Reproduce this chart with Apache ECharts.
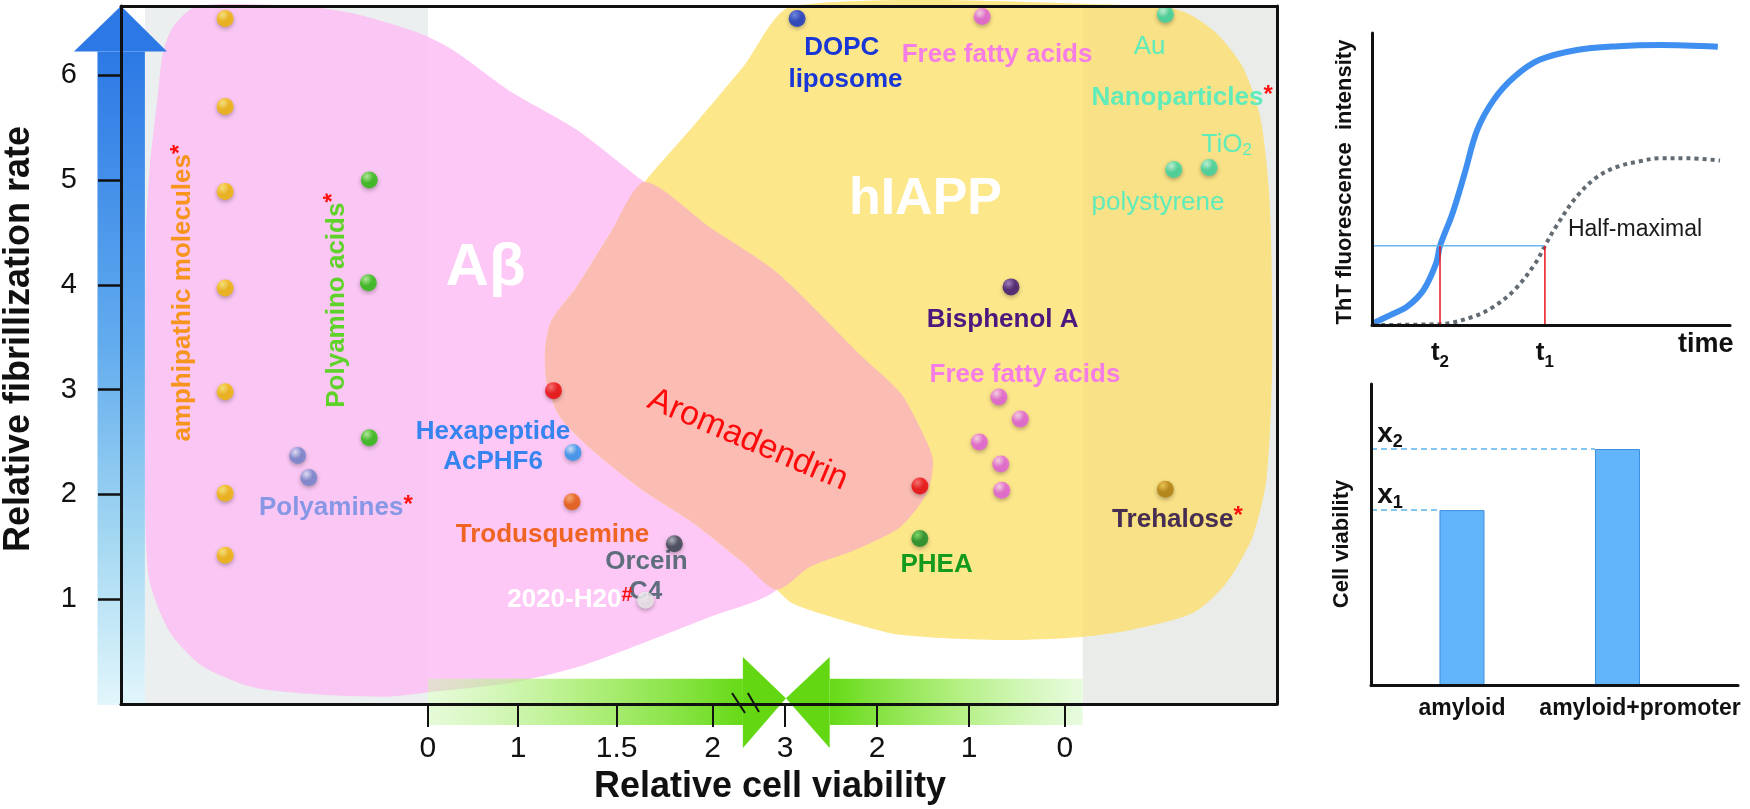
<!DOCTYPE html>
<html><head><meta charset="utf-8">
<script src="https://cdn.jsdelivr.net/npm/echarts@6/dist/echarts.min.js"></script>
<style>html,body{margin:0;padding:0;background:#fff}#c{width:1750px;height:809px}</style>
</head><body><div id="c"></div>
<script>
// ================= DATA =================
// Main panel: x = position along the (broken) "Relative cell viability" axis, y = relative fibrillization rate
const viabilityTickPos = [0, 0.97, 2.03, 3.06, 3.84, 4.83, 5.82, 6.85];
const viabilityTickLabels = ['0', '1', '1.5', '2', '3', '2', '1', '0'];
const rateTicks = [1, 2, 3, 4, 5, 6];

const amphipathicMolecules = [[-2.18,6.54],[-2.18,5.70],[-2.18,4.89],[-2.18,3.97],[-2.18,2.98],[-2.18,2.01],[-2.18,1.42]];
const polyaminoAcids = [[-0.63,5.00],[-0.64,4.02],[-0.63,2.54]];
const polyamines = [[-1.40,2.37],[-1.28,2.16]];
const aromadendrin = [[1.35,2.99],[5.29,2.08]];
const hexapeptide = [[1.56,2.40]];
const trodusquemine = [[1.55,1.93]];
const orcein = [[2.65,1.53]];
const c4 = [[2.34,0.99]];
const dopcLiposome = [[3.97,6.54]];
const freeFattyAcids = [[5.96,6.56],[6.14,2.93],[6.37,2.72],[5.93,2.50],[6.16,2.29],[6.17,2.04]];
const nanoparticles = [[7.93,6.58],[8.02,5.10],[8.40,5.12]];
const bisphenolA = [[6.27,3.98]];
const phea = [[5.29,1.58]];
const trehalose = [[7.93,2.05]];

// Region outlines (same coordinates)
const abetaRegion = [[-2.48,6.66],[-1.38,6.66],[-0.81,6.59],[-0.09,6.40],[0.27,6.24],[0.88,5.85],[1.60,5.48],[2.33,4.98],[3.03,4.55],[3.75,4.12],[4.65,3.33],[4.97,2.42],[3.75,1.09],[3.03,0.83],[2.31,0.58],[1.60,0.35],[0.88,0.20],[-0.01,0.11],[-0.44,0.07],[-1.16,0.09],[-1.88,0.16],[-2.42,0.36],[-2.77,0.68],[-2.99,1.16],[-3.04,1.79],[-3.04,3.33],[-3.03,4.50],[-2.99,5.13],[-2.91,5.76],[-2.85,6.21],[-2.74,6.46]];
const hiappRegion = [[3.92,6.66],[7.87,6.66],[8.19,6.58],[8.48,6.40],[8.76,6.08],[8.95,5.60],[9.05,4.81],[9.08,3.33],[9.02,2.17],[8.87,1.60],[8.59,1.16],[8.23,0.87],[7.58,0.71],[7.04,0.64],[6.15,0.61],[5.08,0.66],[4.46,0.80],[3.92,0.96],[3.75,1.09],[3.39,1.35],[2.85,1.73],[2.31,2.04],[1.77,2.42],[1.42,2.74],[1.28,3.06],[1.26,3.38],[1.33,3.66],[1.60,3.98],[1.96,4.49],[2.33,4.98],[2.85,5.51],[3.39,6.08]];
const aromadendrinRegion = [[3.75,1.09],[3.39,1.35],[2.85,1.73],[2.31,2.04],[1.77,2.42],[1.42,2.74],[1.28,3.06],[1.26,3.38],[1.33,3.66],[1.60,3.98],[1.96,4.49],[2.33,4.98],[3.03,4.55],[3.75,4.12],[4.65,3.33],[5.08,2.97],[5.29,2.64],[5.43,2.33],[5.37,2.02],[5.08,1.69],[4.59,1.47],[4.11,1.31]];

// ThT kinetics panel (time, intensity in %)
const thtWithPromoter = [[0.4,0.6],[5.1,3.4],[9.8,6.3],[14.4,12.0],[17.9,21.1],[19.0,27.1],[22.5,38.3],[25.9,52.0],[29.4,66.8],[34.0,77.1],[39.8,85.0],[46.8,90.8],[57.2,94.2],[68.8,95.5],[80.4,95.9],[96.6,95.3]];
const thtAmyloidOnly = [[0.4,0],[19,0.3],[28.2,2.8],[34,6.3],[39.8,12],[45.6,21.1],[48.3,27.1],[51.4,33.7],[57.2,44],[63,50.8],[68.8,54.3],[74.5,56],[80.4,57.1],[88.5,57.1],[97.2,56.3]];
const halfMaximal = 27.1;
const t2Time = 19.0;
const t1Time = 48.3;

// Cell viability panel
const viabilityCategories = ['amyloid', 'amyloid+promoter'];
const viabilityValues = [58.1, 78.4];
const viabilityLabels = ['x1', 'x2'];

// ================= DRAWING =================
const FONT = '"Liberation Sans", Arial, Helvetica, sans-serif';
const chart = echarts.init(document.getElementById('c'), null, {renderer: 'canvas'});

const MAIN_X = [-3.3, 9.13], MAIN_Y = [0, 6.66];
const barX = [0.415, 2.775];
const barGridLeft = 1371, barGridRight = 12, barWidthPx = 45;
const barHalf = barWidthPx / 2 * (barX[1] - barX[0]) / (1750 - barGridLeft - barGridRight);

function nearestIdx(arr, v) { let b = 0; for (let i = 1; i < arr.length; i++) if (Math.abs(arr[i]-v) < Math.abs(arr[b]-v)) b = i; return b; }

function renderRegions(params, api) {
  const P = a => a.map(p => api.coord(p));
  const c = (u, y) => api.coord([u, y]);
  const rect = (u0, y0, u1, y1) => { const a = c(u0, y0), b = c(u1, y1); return {x: a[0], y: a[1], width: b[0]-a[0], height: b[1]-a[1]}; };
  const ch = [];
  // grey side zones
  ch.push({type: 'rect', shape: rect(-3.043, MAIN_Y[1], 0, MAIN_Y[0]), style: {fill: '#eef2f2'}});
  ch.push({type: 'rect', shape: rect(7.04, MAIN_Y[1], MAIN_X[1], MAIN_Y[0]), style: {fill: '#eef2f2'}});
  ch.push({type: 'polygon', shape: {points: P(abetaRegion), smooth: 0.25}, style: {fill: '#fdc8f6'}});
  ch.push({type: 'polygon', shape: {points: P(hiappRegion), smooth: 0.25}, style: {fill: '#fde78b'}});
  ch.push({type: 'polygon', shape: {points: P(aromadendrinRegion), smooth: 0.25}, style: {fill: '#fbbcb4'}});
  // subtle shading of regions lying inside side zones
  ch.push({type: 'rect', shape: rect(-3.043, MAIN_Y[1], 0, MAIN_Y[0]), style: {fill: 'rgba(110,80,90,0.02)'}});
  ch.push({type: 'rect', shape: rect(7.04, MAIN_Y[1], MAIN_X[1], MAIN_Y[0]), style: {fill: 'rgba(120,90,0,0.035)'}});
  // blue vertical arrow
  ch.push({type: 'rect', shape: rect(-3.553, 6.225, -3.043, -0.01),
    style: {fill: new echarts.graphic.LinearGradient(0, 0, 0, 1, [
      {offset: 0, color: '#2c79e6'}, {offset: 0.45, color: '#62acee'}, {offset: 0.75, color: '#a5d8f2'}, {offset: 1, color: '#e2f6fb'}])}});
  ch.push({type: 'polygon', shape: {points: [c(-3.806, 6.225), c(-3.30, 6.66), c(-2.806, 6.225)]}, style: {fill: '#2c79e6'}});
  // green horizontal arrows
  ch.push({type: 'rect', shape: rect(0, 0.24, 3.387, -0.2),
    style: {fill: new echarts.graphic.LinearGradient(0, 0, 1, 0, [
      {offset: 0, color: 'rgba(200,246,170,0.45)'}, {offset: 0.5, color: 'rgba(165,236,105,0.85)'}, {offset: 1, color: '#66da16'}])}});
  ch.push({type: 'polygon', shape: {points: [c(3.387, 0.449), c(3.85, 0.055), c(3.387, -0.419)]}, style: {fill: '#63d812'}});
  ch.push({type: 'polygon', shape: {points: [c(4.32, 0.449), c(3.85, 0.055), c(4.32, -0.419)]}, style: {fill: '#63d812'}});
  ch.push({type: 'rect', shape: rect(4.32, 0.24, 7.04, -0.2),
    style: {fill: new echarts.graphic.LinearGradient(0, 0, 1, 0, [
      {offset: 0, color: '#66da16'}, {offset: 0.5, color: 'rgba(170,238,115,0.9)'}, {offset: 1, color: 'rgba(222,250,208,0.7)'}])}});
  // axis break marks
  const l1a = c(3.27, 0.105), l1b = c(3.41, -0.086), l2a = c(3.44, 0.105), l2b = c(3.56, -0.076);
  ch.push({type: 'line', shape: {x1: l1a[0], y1: l1a[1], x2: l1b[0], y2: l1b[1]}, style: {stroke: '#111', lineWidth: 2}});
  ch.push({type: 'line', shape: {x1: l2a[0], y1: l2a[1], x2: l2b[0], y2: l2b[1]}, style: {stroke: '#111', lineWidth: 2}});
  return {type: 'group', children: ch};
}

const notes = [
  {t: '{m|amphipathic molecules}{s|*}', at: [-2.63, 3.92], rot: 90, color: '#f7941e', size: 26},
  {t: '{m|Polyamino acids}{s|*}', at: [-0.98, 3.85], rot: 90, color: '#5fd22a', size: 26},
  {t: '{m|Polyamines}{s|*}', at: [-0.99, 1.87], color: '#8797e6', size: 26},
  {t: '{m|Hexapeptide}', at: [0.70, 2.60], color: '#3584ef', size: 26},
  {t: '{m|AcPHF6}', at: [0.70, 2.31], color: '#3584ef', size: 26},
  {t: '{m|Trodusquemine}', at: [1.34, 1.61], color: '#f06423', size: 26},
  {t: '{m|Orcein}', at: [2.35, 1.36], color: '#5f6e7d', size: 26},
  {t: '{m|C4}', at: [2.34, 1.07], color: '#5f6e7d', size: 26},
  {t: '{m|2020-H20}{h|#}', at: [2.20, 0.99], color: '#ffffff', size: 26, align: 'right'},
  {t: '{m|Aromadendrin}', at: [3.44, 2.52], rot: -23, color: '#ff0a0a', size: 34, weight: 'normal'},
  {t: '{m|Aβ}', at: [0.62, 4.16], color: '#ffffff', size: 60},
  {t: '{m|hIAPP}', at: [5.35, 4.81], color: '#ffffff', size: 52},
  {t: '{m|DOPC}', at: [4.45, 6.26], color: '#1937d7', size: 26},
  {t: '{m|liposome}', at: [4.49, 5.96], color: '#1937d7', size: 26},
  {t: '{m|Free fatty acids}', at: [6.12, 6.19], color: '#f57de6', size: 26},
  {t: '{m|Au}', at: [7.76, 6.27], color: '#5febba', size: 26, weight: 'normal'},
  {t: '{m|Nanoparticles}{s|*}', at: [8.11, 5.78], color: '#5febba', size: 26},
  {t: '{m|TiO}{sub|2}', at: [8.59, 5.34], color: '#5febba', size: 26, weight: 'normal'},
  {t: '{m|polystyrene}', at: [7.85, 4.78], color: '#5febba', size: 26, weight: 'normal'},
  {t: '{m|Bisphenol A}', at: [6.18, 3.67], color: '#4b197d', size: 26},
  {t: '{m|Free fatty acids}', at: [6.42, 3.14], color: '#f57de6', size: 26},
  {t: '{m|PHEA}', at: [5.47, 1.33], color: '#149b1e', size: 26},
  {t: '{m|Trehalose}{s|*}', at: [8.06, 1.76], color: '#462d55', size: 26, stroke: '#f4dd6a'}
];

function renderNotes(params, api) {
  const ch = notes.map(n => {
    const p = api.coord(n.at);
    const w = n.weight || 'bold';
    return {
      type: 'text', x: p[0], y: p[1], rotation: (n.rot || 0) * Math.PI / 180,
      style: {
        text: n.t, align: n.align || 'center', verticalAlign: 'middle',
        rich: {
          m: {fill: n.color, color: n.color, fontSize: n.size, fontWeight: w, fontFamily: FONT, lineHeight: n.size * 1.15,
              stroke: n.stroke || null, lineWidth: n.stroke ? 1 : 0},
          s: {fill: '#ff1010', color: '#ff1010', fontSize: 24, fontWeight: 'bold', fontFamily: FONT, verticalAlign: 'top', lineHeight: 18},
          h: {fill: '#ff1010', color: '#ff1010', fontSize: 20, fontWeight: 'bold', fontFamily: FONT, verticalAlign: 'top', lineHeight: 20},
          sub: {fill: n.color, color: n.color, fontSize: 17, fontFamily: FONT, fontWeight: w, verticalAlign: 'bottom', lineHeight: 22}
        }
      }
    };
  });
  return {type: 'group', children: ch};
}

const pointGroups = [
  {name: 'amphipathic molecules', data: amphipathicMolecules, base: '#f5b800', hl: '#fff06a'},
  {name: 'Polyamino acids', data: polyaminoAcids, base: '#28c00a', hl: '#aef890'},
  {name: 'Polyamines', data: polyamines, base: '#7585d0', hl: '#e6eaff'},
  {name: 'Aromadendrin', data: aromadendrin, base: '#f00508', hl: '#ff6a6a'},
  {name: 'Hexapeptide AcPHF6', data: hexapeptide, base: '#2f96f2', hl: '#cdeeff'},
  {name: 'Trodusquemine', data: trodusquemine, base: '#ec5804', hl: '#ffae62'},
  {name: 'Orcein', data: orcein, base: '#36414c', hl: '#a9b4be'},
  {name: 'C4', data: c4, base: '#ececec', hl: '#ffffff'},
  {name: 'DOPC liposome', data: dopcLiposome, base: '#1232cc', hl: '#5a7cf7'},
  {name: 'Free fatty acids', data: freeFattyAcids, base: '#e65ee0', hl: '#fdd4f9'},
  {name: 'Nanoparticles', data: nanoparticles, base: '#38d8a6', hl: '#bdfce8'},
  {name: 'Bisphenol A', data: bisphenolA, base: '#3a1075', hl: '#9670d0'},
  {name: 'PHEA', data: phea, base: '#148c22', hl: '#70e068'},
  {name: 'Trehalose', data: trehalose, base: '#b57f0c', hl: '#f2c84c'}
];

const axisBlack = {show: true, onZero: false, lineStyle: {color: '#111', width: 3}};
const noTick = {show: false}, noLabel = {show: false}, noSplit = {show: false};

const series = [
  {type: 'custom', name: 'regions', xAxisIndex: 0, yAxisIndex: 0, z: 1, silent: true, data: [[0, 1]], renderItem: renderRegions},
  {type: 'custom', name: 'notes', xAxisIndex: 0, yAxisIndex: 0, z: 4, silent: true, data: [[0, 1]], renderItem: renderNotes}
];
pointGroups.forEach(g => series.push({
  type: 'scatter', name: g.name, xAxisIndex: 0, yAxisIndex: 0, z: 5, data: g.data, symbolSize: 17,
  itemStyle: {color: new echarts.graphic.RadialGradient(0.36, 0.3, 0.7, [{offset: 0, color: g.hl}, {offset: 0.55, color: g.base}, {offset: 1, color: g.base}]),
    shadowBlur: 4, shadowColor: 'rgba(0,0,0,0.35)', shadowOffsetY: 2}
}));

// ThT panel
series.push({type: 'line', name: 'amyloid+promoter', xAxisIndex: 2, yAxisIndex: 2, data: thtWithPromoter, smooth: 0.35, symbol: 'none',
  lineStyle: {color: '#3f8ff0', width: 6}, z: 3});
series.push({type: 'line', name: 'amyloid', xAxisIndex: 2, yAxisIndex: 2, data: thtAmyloidOnly, smooth: 0.35, symbol: 'none',
  lineStyle: {color: '#636b72', width: 4, type: [4, 4]}, z: 3});
series.push({type: 'line', name: 'half-maximal', xAxisIndex: 2, yAxisIndex: 2, symbol: 'circle', symbolSize: 0, z: 4,
  data: [[0, halfMaximal], {value: [t1Time, halfMaximal], label: {show: true, position: 'right', distance: 23, offset: [0, -16],
    formatter: 'Half-maximal', fontFamily: FONT, fontSize: 23, color: '#1a1a1a'}}],
  lineStyle: {color: '#69b6f3', width: 1.5}});
[t2Time, t1Time].forEach(t => series.push({type: 'line', xAxisIndex: 2, yAxisIndex: 2, symbol: 'none', z: 4,
  data: [[t, 0], [t, halfMaximal]], lineStyle: {color: '#e8141e', width: 1.5}}));

// cell viability panel
series.push({type: 'bar', name: 'cell viability', xAxisIndex: 3, yAxisIndex: 3, barWidth: barWidthPx,
  data: viabilityValues.map((v, i) => [i + 1, v]),
  itemStyle: {color: '#63b5fb', borderColor: '#3b8fdf', borderWidth: 1}, z: 3});
viabilityValues.forEach((v, i) => series.push({type: 'line', xAxisIndex: 3, yAxisIndex: 3, symbol: 'circle', symbolSize: 0, z: 2,
  data: [{value: [barX[0], v], label: {show: true, position: 'top', distance: 0, offset: [19, 2],
      formatter: '{x|x}{s|' + viabilityLabels[i].slice(1) + '}',
      rich: {x: {fontFamily: FONT, fontSize: 28, fontWeight: 'bold', color: '#111', lineHeight: 28},
             s: {fontFamily: FONT, fontSize: 18, fontWeight: 'bold', color: '#111', verticalAlign: 'bottom', lineHeight: 34}}}},
    [i + 1 - barHalf, v]],
  lineStyle: {color: '#5db4ec', width: 1.5, type: [6, 4]}}));

const option = {
  animation: false,
  backgroundColor: '#ffffff',
  grid: [
    {left: 121, top: 6, right: 473, bottom: 105, outerBoundsMode: 'none', containLabel: false},
    {left: 1372, top: 33, right: 20, bottom: 484, outerBoundsMode: 'none', containLabel: false},
    {left: barGridLeft, top: 384, right: barGridRight, bottom: 124, outerBoundsMode: 'none', containLabel: false}
  ],
  xAxis: [
    {gridIndex: 0, type: 'value', min: MAIN_X[0], max: MAIN_X[1], z: 10,
      axisLine: axisBlack, splitLine: noSplit,
      axisTick: {show: true, customValues: viabilityTickPos, length: 23, lineStyle: {color: '#111', width: 2}},
      axisLabel: {show: true, customValues: viabilityTickPos, margin: 30, fontFamily: FONT, fontSize: 30, color: '#111',
        formatter: v => viabilityTickLabels[nearestIdx(viabilityTickPos, v)]},
      name: 'Relative cell viability', nameLocation: 'middle', nameGap: 63,
      nameTextStyle: {fontFamily: FONT, fontSize: 36, fontWeight: 'bold', color: '#111', padding: [0, 0, 0, 142]}},
    {gridIndex: 0, type: 'value', position: 'top', min: MAIN_X[0], max: MAIN_X[1], z: 10,
      axisLine: axisBlack, axisTick: noTick, axisLabel: noLabel, splitLine: noSplit},
    {gridIndex: 1, type: 'value', min: 0, max: 100, z: 10, axisLine: axisBlack, splitLine: noSplit,
      axisTick: noTick,
      axisLabel: {show: true, customValues: [t2Time, t1Time], margin: 10,
        formatter: v => (Math.abs(v - t2Time) < Math.abs(v - t1Time)) ? '{t|t}{s|2}' : '{t|t}{s|1}',
        rich: {t: {fontFamily: FONT, fontSize: 26, fontWeight: 'bold', color: '#111', lineHeight: 28},
               s: {fontFamily: FONT, fontSize: 17, fontWeight: 'bold', color: '#111', verticalAlign: 'bottom', lineHeight: 36}}},
      name: 'time', nameLocation: 'end', nameGap: -52,
      nameTextStyle: {fontFamily: FONT, fontSize: 27, fontWeight: 'bold', color: '#111', align: 'left', verticalAlign: 'top', padding: [6, 0, 0, 0]}},
    {gridIndex: 2, type: 'value', min: barX[0], max: barX[1], z: 10, axisLine: axisBlack, splitLine: noSplit,
      axisTick: noTick,
      axisLabel: {show: true, customValues: [1, 2], margin: 12,
        formatter: v => v < 1.5 ? '{a|' + viabilityCategories[0] + '}' : '{b|' + viabilityCategories[1] + '}',
        rich: {a: {fontFamily: FONT, fontSize: 23, fontWeight: 'bold', color: '#111'},
               b: {fontFamily: FONT, fontSize: 23, fontWeight: 'bold', color: '#111', padding: [0, 0, 0, 45]}}}}
  ],
  yAxis: [
    {gridIndex: 0, type: 'value', min: MAIN_Y[0], max: MAIN_Y[1], z: 10, axisLine: axisBlack, splitLine: noSplit,
      axisTick: {show: true, customValues: rateTicks, length: 23, lineStyle: {color: '#111', width: 2.5}},
      axisLabel: {show: true, customValues: rateTicks, margin: 44, fontFamily: FONT, fontSize: 29, color: '#111'},
      name: 'Relative fibrillization rate', nameLocation: 'middle', nameRotate: 90, nameGap: 84,
      nameTextStyle: {fontFamily: FONT, fontSize: 36, fontWeight: 'bold', color: '#111', padding: [0, 0, 0, 32]}},
    {gridIndex: 0, type: 'value', position: 'right', min: MAIN_Y[0], max: MAIN_Y[1], z: 10,
      axisLine: axisBlack, axisTick: noTick, axisLabel: noLabel, splitLine: noSplit},
    {gridIndex: 1, type: 'value', min: 0, max: 100, z: 10, axisLine: axisBlack, axisTick: noTick, axisLabel: noLabel, splitLine: noSplit,
      name: 'ThT fluorescence  intensity', nameLocation: 'middle', nameRotate: 90, nameGap: 16,
      nameTextStyle: {fontFamily: FONT, fontSize: 22, fontWeight: 'bold', color: '#111', padding: [0, 6, 0, 0]}},
    {gridIndex: 2, type: 'value', min: 0, max: 100, z: 10, axisLine: axisBlack, axisTick: noTick, axisLabel: noLabel, splitLine: noSplit,
      name: 'Cell viability', nameLocation: 'middle', nameRotate: 90, nameGap: 18,
      nameTextStyle: {fontFamily: FONT, fontSize: 22, fontWeight: 'bold', color: '#111', padding: [0, 19, 0, 0]}}
  ],
  series: series
};
chart.setOption(option);
</script>
</body></html>
